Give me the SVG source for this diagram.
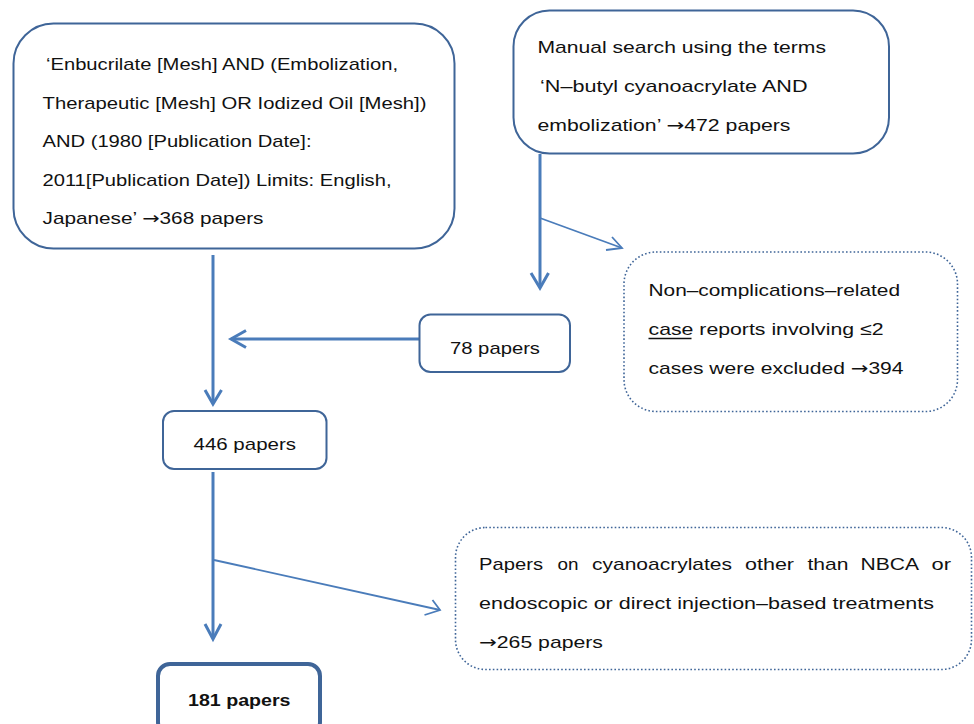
<svg xmlns="http://www.w3.org/2000/svg" width="974" height="724" viewBox="0 0 974 724">
<style>
.box{fill:#fff;stroke:#3F6598;stroke-width:2}
.dot{fill:#fff;stroke:#3F6598;stroke-width:1.6;stroke-dasharray:1.6 2.2}
.t{font-family:"Liberation Sans",Arial,sans-serif;font-size:17px;fill:#111}
.ar{font-family:"DejaVu Sans",sans-serif}
.main{fill:none;stroke:#4A7CBA;stroke-width:3;stroke-linecap:butt}
.thin{fill:none;stroke:#4A7CBA;stroke-width:1.8}
.head{fill:none;stroke:#4A7CBA;stroke-width:3;stroke-linejoin:miter}
.headt{fill:none;stroke:#4A7CBA;stroke-width:1.8}
</style>
<rect width="974" height="724" fill="#fff"/>
<g id="connectors">
  <line class="main" x1="213" y1="255" x2="213" y2="403"/>
  <polyline class="head" points="205,390 213,404 221.5,390"/>
  <line class="main" x1="540" y1="154" x2="540" y2="287"/>
  <polyline class="head" points="531,273 540,288 548.5,273"/>
  <line class="thin" x1="540" y1="218" x2="622" y2="248"/>
  <polyline class="headt" points="606,250 622,248 612,237"/>
  <line class="main" x1="419" y1="339" x2="231" y2="339"/>
  <polyline class="head" points="246,330.5 231,339 246,347.5"/>
  <line class="main" x1="213" y1="472" x2="213" y2="638"/>
  <polyline class="head" points="205,624 213,639 221,624"/>
  <line class="thin" x1="214" y1="560" x2="440" y2="610"/>
  <polyline class="headt" points="424.5,615 440,610 432.5,600"/>
</g>
<g id="node-mesh">
  <rect class="box" x="13.5" y="23.5" width="441" height="225" rx="40" ry="40"/>
  <text class="t" x="46" y="70" textLength="352" lengthAdjust="spacingAndGlyphs">‘Enbucrilate [Mesh] AND (Embolization,</text>
  <text class="t" x="42.5" y="108.5" textLength="384" lengthAdjust="spacingAndGlyphs">Therapeutic [Mesh] OR Iodized Oil [Mesh])</text>
  <text class="t" x="42.5" y="147" textLength="269" lengthAdjust="spacingAndGlyphs">AND (1980 [Publication Date]:</text>
  <text class="t" x="42.5" y="185.5" textLength="349" lengthAdjust="spacingAndGlyphs">2011[Publication Date]) Limits: English,</text>
  <text class="t" x="42.5" y="224" textLength="221" lengthAdjust="spacingAndGlyphs">Japanese’ <tspan class="ar">→</tspan>368 papers</text>
</g>
<g id="node-manual">
  <rect class="box" x="513.5" y="10.5" width="375.5" height="143" rx="36" ry="36"/>
  <text class="t" x="537.5" y="53" textLength="288.5" lengthAdjust="spacingAndGlyphs">Manual search using the terms</text>
  <text class="t" x="540" y="91.5" textLength="267.5" lengthAdjust="spacingAndGlyphs">‘N–butyl cyanoacrylate AND</text>
  <text class="t" x="537.5" y="130.5" textLength="253" lengthAdjust="spacingAndGlyphs">embolization’ <tspan class="ar">→</tspan>472 papers</text>
</g>
<g id="node-excluded394">
  <rect class="dot" x="624" y="252" width="333.5" height="159.5" rx="32" ry="32"/>
  <text class="t" x="648.5" y="296" textLength="251.5" lengthAdjust="spacingAndGlyphs">Non–complications–related</text>
  <text class="t" x="648.5" y="335" textLength="235" lengthAdjust="spacingAndGlyphs">case reports involving ≤2</text>
  <line x1="648.5" y1="338.5" x2="691.5" y2="338.5" stroke="#111" stroke-width="1.6"/>
  <text class="t" x="648.5" y="373.5" textLength="255" lengthAdjust="spacingAndGlyphs">cases were excluded <tspan class="ar">→</tspan>394</text>
</g>
<g id="node-78">
  <rect class="box" x="419.5" y="314.5" width="150.5" height="57.5" rx="11" ry="11"/>
  <text class="t" x="450" y="353.5" textLength="90" lengthAdjust="spacingAndGlyphs">78 papers</text>
</g>
<g id="node-446">
  <rect class="box" x="163" y="411" width="163.5" height="58" rx="11" ry="11"/>
  <text class="t" x="193.5" y="449.5" textLength="102.5" lengthAdjust="spacingAndGlyphs">446 papers</text>
</g>
<g id="node-excluded265">
  <rect class="dot" x="455.5" y="527.5" width="516" height="142" rx="30" ry="30"/>
  <text class="t" x="479" y="570" textLength="64" lengthAdjust="spacingAndGlyphs">Papers</text>
  <text class="t" x="557.5" y="570" textLength="21" lengthAdjust="spacingAndGlyphs">on</text>
  <text class="t" x="592" y="570" textLength="140" lengthAdjust="spacingAndGlyphs">cyanoacrylates</text>
  <text class="t" x="745" y="570" textLength="49" lengthAdjust="spacingAndGlyphs">other</text>
  <text class="t" x="807.5" y="570" textLength="41" lengthAdjust="spacingAndGlyphs">than</text>
  <text class="t" x="860.5" y="570" textLength="58.5" lengthAdjust="spacingAndGlyphs">NBCA</text>
  <text class="t" x="931.5" y="570" textLength="19.5" lengthAdjust="spacingAndGlyphs">or</text>
  <text class="t" x="479" y="609" textLength="455" lengthAdjust="spacingAndGlyphs">endoscopic or direct injection–based treatments</text>
  <text class="t" x="479" y="647.5" textLength="124" lengthAdjust="spacingAndGlyphs"><tspan class="ar">→</tspan>265 papers</text>
</g>
<g id="node-181">
  <rect x="158" y="664" width="162" height="70" rx="12" ry="12" fill="#fff" stroke="#3F6598" stroke-width="4"/>
  <text class="t" x="188" y="705.5" font-weight="bold" textLength="102.5" lengthAdjust="spacingAndGlyphs">181 papers</text>
</g>
</svg>
